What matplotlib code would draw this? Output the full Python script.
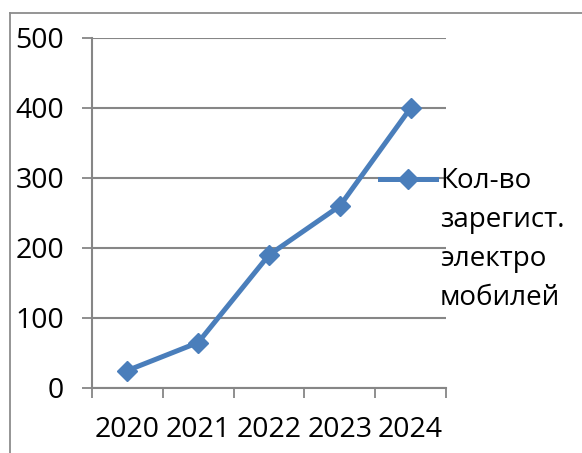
import matplotlib.pyplot as plt
from matplotlib.lines import Line2D

years = ['2020', '2021', '2022', '2023', '2024']
counts = [25, 65, 190, 260, 400]
y_ticks = [0, 100, 200, 300, 400, 500]
legend_lines = ['Кол-во', 'зарегист.', 'электро', 'мобилей']

blue = '#4A7EBB'
grid_gray = '#868686'

plt.rcParams['font.family'] = ['Open Sans', 'DejaVu Sans']

W, H = 582, 453
fig = plt.figure(figsize=(W / 100, H / 100), dpi=100)

# plot area in pixel coords
left, right, top, bottom = 92, 446, 38, 388
ax = fig.add_axes([left / W, 1 - bottom / H, (right - left) / W, (bottom - top) / H])

x = range(len(years))
ax.plot(x, counts, color=blue, lw=3.6, marker='D', ms=10, mfc=blue, mec=blue, clip_on=False)

ax.set_xlim(-0.5, len(years) - 0.5)
ax.set_ylim(0, 500)
ax.set_yticks(y_ticks)
ax.set_yticklabels([str(v) for v in y_ticks], fontsize=20.5)
ax.set_xticks([i - 0.5 for i in range(len(years) + 1)])
ax.set_xticklabels([])
ax.set_xticks(list(x), minor=True)
ax.set_xticklabels(years, minor=True, fontsize=20.5)
ax.tick_params(axis='x', which='minor', length=0, pad=20)
ax.tick_params(axis='x', which='major', length=7, width=1.3, color=grid_gray)
ax.tick_params(axis='y', length=7, width=1.3, color=grid_gray, pad=13)

ax.yaxis.grid(True, color=grid_gray, lw=1.5)
ax.set_axisbelow(True)
for side in ['top', 'right']:
    ax.spines[side].set_visible(False)
for side in ['left', 'bottom']:
    ax.spines[side].set_color(grid_gray)
    ax.spines[side].set_linewidth(1.5)

# legend drawn by hand, handle next to first line
ly = 1 - 179 / H
fig.add_artist(Line2D([380 / W, 436 / W], [ly, ly], color=blue, lw=3.6))
fig.add_artist(Line2D([408 / W], [ly], color=blue, marker='D', ms=10, mec=blue))
for i, t in enumerate(legend_lines):
    fig.text(440 / W, 1 - (181 + 39 * i) / H, t, fontsize=20, va='center', ha='left')

# outer chart frame (clipped at right and bottom)
fig.add_artist(Line2D([10 / W, 10 / W], [0, 1 - 13 / H], color='#8c8c8c', lw=1.3))
fig.add_artist(Line2D([10 / W, 1], [1 - 13 / H, 1 - 13 / H], color='#8c8c8c', lw=1.3))

fig.savefig('out.png', dpi=100)
